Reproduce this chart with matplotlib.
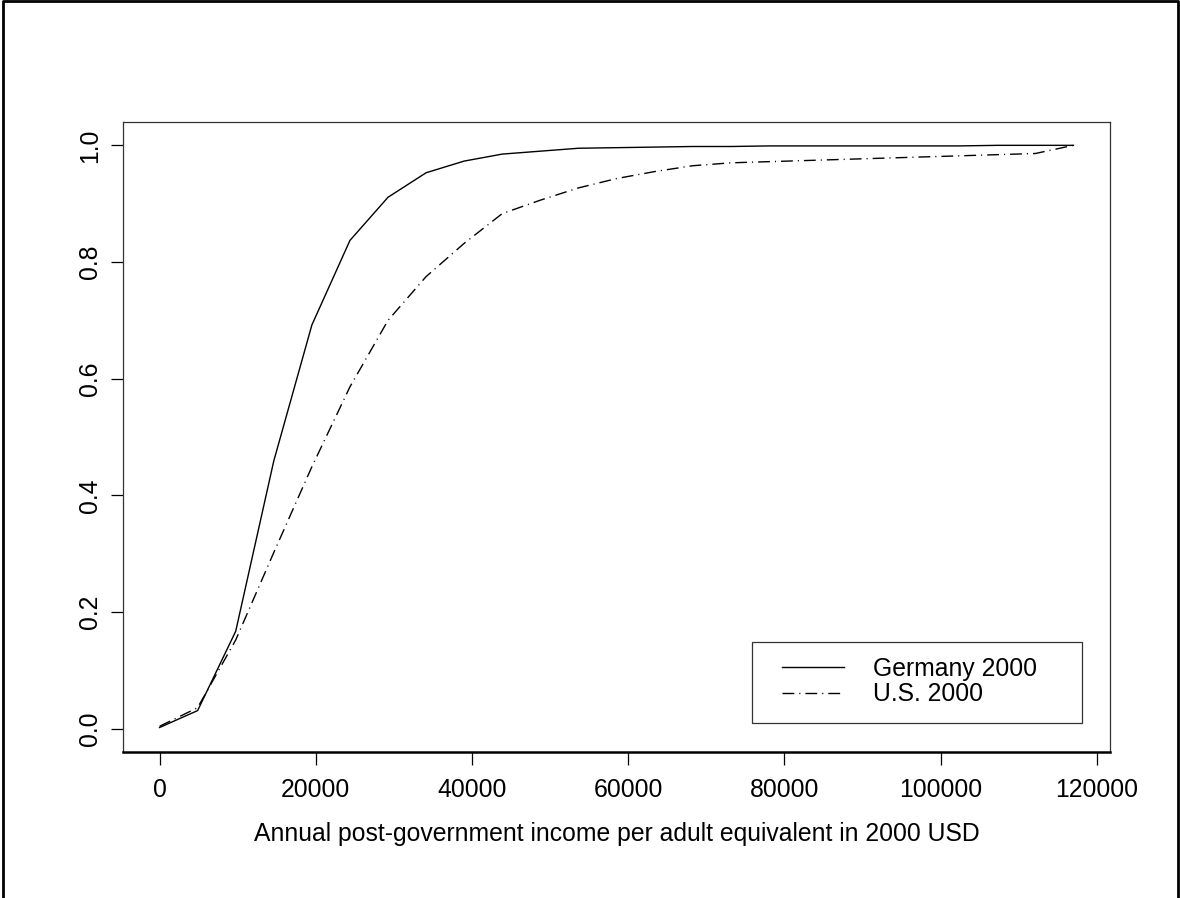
import matplotlib
matplotlib.use("Agg")
import matplotlib.pyplot as plt
from matplotlib.lines import Line2D
from matplotlib.patches import Rectangle

plt.rcParams["font.family"] = ["Liberation Sans", "DejaVu Sans"]

# income grid (2000 USD) and cumulative shares
income = [0, 4875, 9750, 14625, 19500, 24375, 29250, 34125, 39000, 43875,
          48750, 53625, 58500, 63375, 68250, 73125, 78000, 82875, 87750,
          92625, 97500, 102375, 107250, 112125, 117000]
germany = [0.002, 0.031, 0.167, 0.459, 0.692, 0.837, 0.911, 0.953, 0.973, 0.985,
           0.990, 0.995, 0.996, 0.997, 0.998, 0.998, 0.999, 0.999, 0.999,
           0.999, 0.999, 0.999, 1.000, 1.000, 1.000]
us = [0.004, 0.036, 0.152, 0.302, 0.449, 0.586, 0.700, 0.775, 0.832, 0.883,
      0.906, 0.927, 0.943, 0.955, 0.965, 0.970, 0.972, 0.974, 0.976,
      0.978, 0.980, 0.982, 0.984, 0.986, 1.000]

xticks = [0, 20000, 40000, 60000, 80000, 100000, 120000]
yticks = [0.0, 0.2, 0.4, 0.6, 0.8, 1.0]

FS = 17.8
W, H = 1180, 898
fig = plt.figure(figsize=(W / 100, H / 100), dpi=100)
ax = fig.add_axes([123 / W, (H - 752) / H, (1110 - 123) / W, (752 - 122) / H])

ax.plot(income, germany, color="black", lw=1.0, label="Germany 2000")
ax.plot(income, us, color="black", lw=1.0, dashes=(8.5, 3.6, 0.8, 3.6),
        label="U.S. 2000")

ax.set_xlim(-4680, 121680)
ax.set_ylim(-0.04, 1.04)

ax.set_xticks(xticks)
ax.set_xticklabels([str(t) for t in xticks])
ax.set_yticks(yticks)
ax.set_yticklabels([f"{t:.1f}" for t in yticks], rotation=90, va="center")
ax.tick_params(axis="both", direction="out", length=9, width=0.9,
               labelsize=FS, color="black")
ax.tick_params(axis="x", pad=10)
ax.tick_params(axis="y", pad=6)

for s in ax.spines.values():
    s.set_linewidth(0.9)
    s.set_color("#333333")
ax.spines["bottom"].set_linewidth(1.8)
ax.spines["bottom"].set_color("black")

ax.set_xlabel("Annual post-government income per adult equivalent in 2000 USD",
              fontsize=FS, va="top")
ax.xaxis.set_label_coords(0.5, (752 - 822) / 630)

# legend box drawn separately, entries placed inside it
ax.add_patch(Rectangle(((752 - 123) / 987, (752 - 723) / 630),
                       (1082 - 752) / 987, (723 - 642) / 630,
                       transform=ax.transAxes, fill=False, lw=0.9,
                       edgecolor="#333333", zorder=5))
ax.legend(loc="center left", bbox_to_anchor=((782 - 123) / 987, (752 - 681.5) / 630),
          frameon=False, fontsize=FS, borderpad=0, borderaxespad=0,
          labelspacing=0.08, handlelength=2.5, handletextpad=1.2)

# outer frame (bottom edge cut off in the original)
fig.add_artist(Line2D([2.5 / W, 2.5 / W, 1178 / W, 1178 / W],
                      [0, 1 - 1.3 / H, 1 - 1.3 / H, 0],
                      transform=fig.transFigure, color="black", lw=2.0))

fig.savefig("out.png", dpi=100)
